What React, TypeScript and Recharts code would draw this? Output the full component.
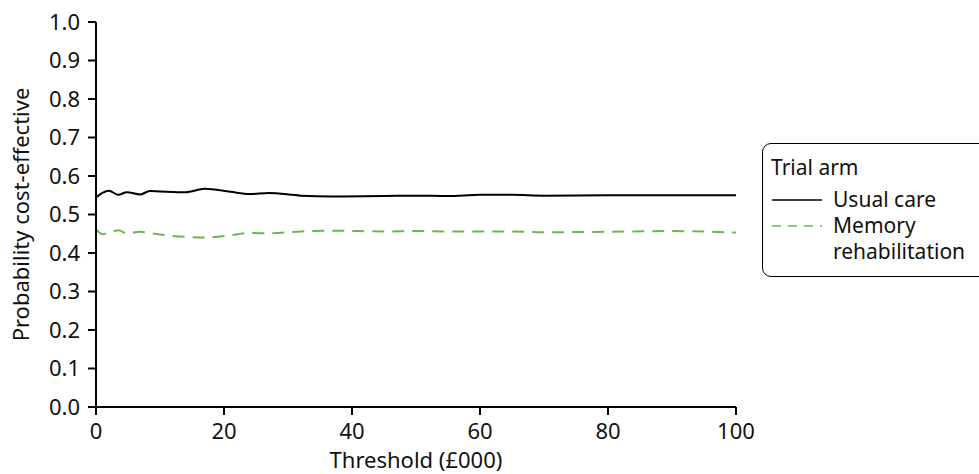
import { LineChart, Line, XAxis, YAxis } from "recharts";

const thresholds = [0, 1, 2, 3.5, 4.8, 6.9, 8.4, 10, 14, 17, 21, 24, 27, 32, 37, 45, 50, 55, 60, 65, 70, 80, 90, 100];
const usualCare = [0.544, 0.556, 0.562, 0.551, 0.558, 0.552, 0.561, 0.56, 0.558, 0.567, 0.559, 0.553, 0.556, 0.549, 0.547, 0.548, 0.549, 0.548, 0.551, 0.551, 0.549, 0.55, 0.55, 0.55];
const memoryRehab = [0.462, 0.449, 0.452, 0.459, 0.451, 0.455, 0.452, 0.448, 0.442, 0.44, 0.446, 0.452, 0.451, 0.456, 0.458, 0.456, 0.457, 0.456, 0.456, 0.456, 0.454, 0.455, 0.457, 0.453];
const xTicks = [0, 20, 40, 60, 80, 100];
const yTicks = [0, 0.1, 0.2, 0.3, 0.4, 0.5, 0.6, 0.7, 0.8, 0.9, 1.0];

const FONT = "'Noto Sans', sans-serif";
const FS = 22;
const GREEN = "#6ab84c";

const data = thresholds.map((t, i) => ({ t, usual: usualCare[i], memory: memoryRehab[i] }));

// legend box sits at (762, 143); rows are placed by their vertical centre inside it
function TrialLegend() {
  const rowAt = (cy: number) => ({
    position: "absolute" as const,
    top: cy - 11,
    height: 22,
    lineHeight: "22px",
    whiteSpace: "nowrap" as const,
  });
  return (
    <div
      style={{
        position: "absolute",
        left: 762,
        top: 143,
        width: 240,
        height: 134,
        border: "1.5px solid #000",
        borderRadius: 9,
        fontFamily: FONT,
        fontSize: 21,
        color: "#111",
        boxSizing: "border-box",
      }}
    >
      <div style={{ ...rowAt(23), left: 8 }}>Trial arm</div>
      <svg width={50} height={4} style={{ position: "absolute", left: 9, top: 54 }}>
        <line x1={0} y1={2} x2={50} y2={2} stroke="#000" strokeWidth={1.5} />
      </svg>
      <div style={{ ...rowAt(55), left: 70 }}>Usual care</div>
      <svg width={50} height={4} style={{ position: "absolute", left: 9, top: 80 }}>
        <line x1={0} y1={2} x2={50} y2={2} stroke={GREEN} strokeWidth={1.5} strokeDasharray="9 7" />
      </svg>
      <div style={{ ...rowAt(81), left: 70 }}>Memory</div>
      <div style={{ ...rowAt(107), left: 70 }}>rehabilitation</div>
    </div>
  );
}

export default function App() {
  return (
    <div style={{ position: "relative", width: 979, height: 474, overflow: "hidden", background: "#fff" }}>
      <style>{"body{margin:0}"}</style>
      <LineChart width={979} height={474} data={data} margin={{ top: 22, right: 243, bottom: 0, left: 0 }}>
        <XAxis
          dataKey="t"
          type="number"
          domain={[0, 100]}
          ticks={xTicks}
          height={67}
          stroke="#000"
          strokeWidth={2}
          tickSize={8}
          tickMargin={8}
          tick={{ fill: "#111", fontSize: FS, fontFamily: FONT }}
          label={{
            content: (p: any) => (
              <text
                x={p.viewBox.x + p.viewBox.width / 2}
                y={p.viewBox.y + 52}
                textAnchor="middle"
                dominantBaseline="central"
                fontSize={FS}
                fontFamily={FONT}
                fill="#111"
              >
                Threshold (£000)
              </text>
            ),
          }}
        />
        <YAxis
          type="number"
          domain={[0, 1]}
          ticks={yTicks}
          width={96}
          stroke="#000"
          strokeWidth={2}
          tickSize={8}
          tickMargin={8}
          tickFormatter={(v) => Number(v).toFixed(1)}
          tick={{ fill: "#111", fontSize: FS, fontFamily: FONT }}
          label={{
            content: (p: any) => {
              const cx = p.viewBox.x + 20;
              const cy = p.viewBox.y + p.viewBox.height / 2;
              return (
                <text
                  x={cx}
                  y={cy}
                  transform={`rotate(-90 ${cx} ${cy})`}
                  textAnchor="middle"
                  dominantBaseline="central"
                  fontSize={FS}
                  fontFamily={FONT}
                  fill="#111"
                >
                  Probability cost-effective
                </text>
              );
            },
          }}
        />
        <Line type="monotone" dataKey="usual" stroke="#000" strokeWidth={2} dot={false} isAnimationActive={false} />
        <Line
          type="monotone"
          dataKey="memory"
          stroke={GREEN}
          strokeWidth={2}
          strokeDasharray="12 8"
          dot={false}
          isAnimationActive={false}
        />
      </LineChart>
      <TrialLegend />
    </div>
  );
}
